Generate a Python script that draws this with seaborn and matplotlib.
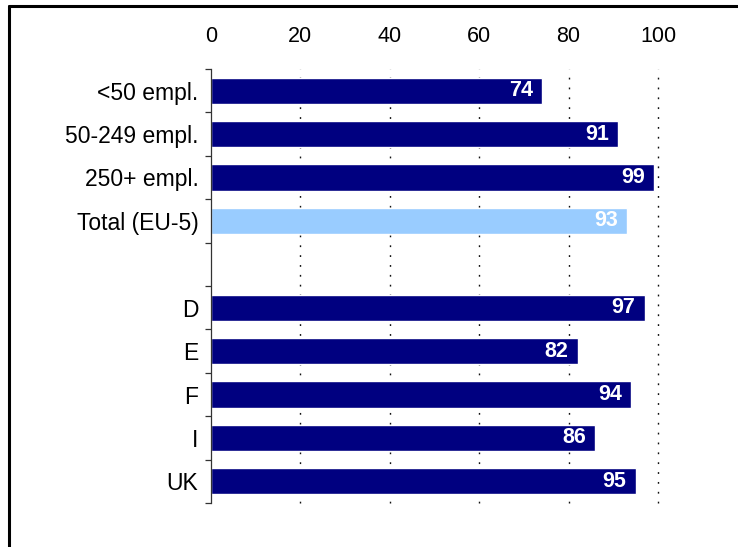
import matplotlib
matplotlib.use("Agg")
import matplotlib.pyplot as plt
from matplotlib.lines import Line2D
from matplotlib.ticker import FixedLocator
import numpy as np
import pandas as pd
import seaborn as sns

# Share of enterprises (%) by size class and by country
categories = ["<50 empl.", "50-249 empl.", "250+ empl.", "Total (EU-5)", " ",
              "D", "E", "F", "I", "UK"]
values = [74, 91, 99, 93, np.nan, 97, 82, 94, 86, 95]
x_ticks = [0, 20, 40, 60, 80, 100]

navy = "#000080"
light_blue = "#99CCFF"
bar_colors = [light_blue if c.startswith("Total") else navy for c in categories]

df = pd.DataFrame({"category": categories, "value": values})

sns.set_style("white")
plt.rcParams["font.family"] = ["Liberation Sans", "DejaVu Sans"]

fig = plt.figure(figsize=(7.38, 5.47), dpi=100)
ax = fig.add_axes([211 / 738, 1 - 503 / 547, (658 - 211) / 738, (503 - 69) / 547])

sns.barplot(data=df, x="value", y="category", hue="category",
            palette=dict(zip(categories, bar_colors)), order=categories,
            orient="h", width=0.6, legend=False, saturation=1, ax=ax)

ax.set_xlim(0, 100)
ax.set_ylim(len(categories) - 0.5, -0.5)
ax.set_xlabel("")
ax.set_ylabel("")

# top value axis, no spine or tick marks
ax.xaxis.tick_top()
ax.set_xticks(x_ticks)
ax.set_xticklabels([str(t) for t in x_ticks])
ax.tick_params(axis="x", length=0, pad=16, labelsize=15.5, labelcolor="black")

# category labels with small tick marks at the slot boundaries
ax.set_yticks(range(len(categories)))
ax.set_yticklabels(categories)
ax.tick_params(axis="y", which="major", length=0, pad=9, labelsize=16.5,
               labelcolor="black")
ax.yaxis.set_minor_locator(FixedLocator(np.arange(-0.5, len(categories), 1.0)))
ax.tick_params(axis="y", which="minor", length=4, width=0.9, color="#333333",
               direction="out", left=True)

for side in ["top", "right", "bottom"]:
    ax.spines[side].set_visible(False)
ax.spines["left"].set_color("#333333")
ax.spines["left"].set_linewidth(0.9)

# dotted vertical gridlines
for t in x_ticks[1:]:
    ax.axvline(t, color="#111111", lw=1.0, ls=(0, (1.3, 5.8)), zorder=0,
               clip_on=False)

# value labels inside the bar ends
for i, (c, v) in enumerate(zip(categories, values)):
    if np.isnan(v):
        continue
    ax.annotate(f"{v:.0f}", xy=(v, i), xytext=(-6.5, 0), textcoords="offset points",
                ha="right", va="center", color="white", fontsize=15.5,
                fontweight="bold")

# frame around the chart area
fig.add_artist(Line2D([8.5 / 738, 8.5 / 738], [0, 1 - 5.5 / 547],
                      transform=fig.transFigure, color="black", lw=2.2))
fig.add_artist(Line2D([8.5 / 738, 1.0], [1 - 5.5 / 547, 1 - 5.5 / 547],
                      transform=fig.transFigure, color="black", lw=2.2))

fig.savefig("out.png", dpi=100)
